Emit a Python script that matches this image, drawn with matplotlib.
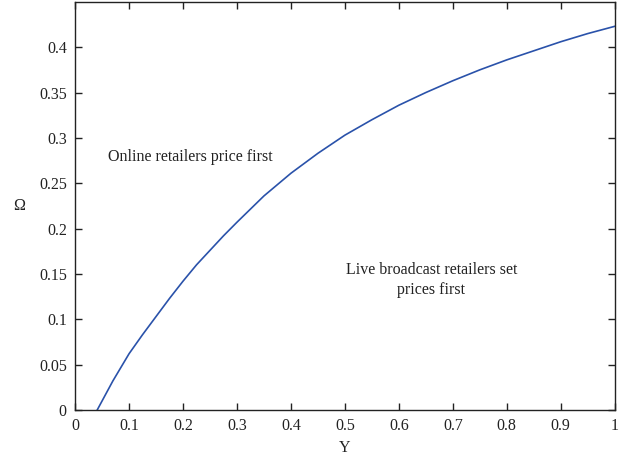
import matplotlib
matplotlib.use('Agg')
import matplotlib.pyplot as plt

# waarden
gamma = [0.041, 0.07, 0.1, 0.125, 0.15, 0.175, 0.2, 0.225, 0.25, 0.275, 0.3,
         0.35, 0.4, 0.45, 0.5, 0.55, 0.6, 0.65, 0.7, 0.75, 0.8, 0.85, 0.9, 0.95, 1.0]
omega = [0.0, 0.032, 0.062, 0.083, 0.103, 0.123, 0.142, 0.160, 0.176, 0.192, 0.207,
         0.236, 0.261, 0.283, 0.303, 0.320, 0.336, 0.350, 0.363, 0.375, 0.386, 0.396,
         0.406, 0.415, 0.423]

x_ticks = [0, 0.1, 0.2, 0.3, 0.4, 0.5, 0.6, 0.7, 0.8, 0.9, 1]
x_labels = ['0', '0.1', '0.2', '0.3', '0.4', '0.5', '0.6', '0.7', '0.8', '0.9', '1']
y_ticks = [0, 0.05, 0.1, 0.15, 0.2, 0.25, 0.3, 0.35, 0.4]
y_labels = ['0', '0.05', '0.1', '0.15', '0.2', '0.25', '0.3', '0.35', '0.4']

plt.rcParams['font.family'] = ['Liberation Serif', 'DejaVu Serif']

fig = plt.figure(figsize=(6.26, 4.58), dpi=100)
ax = fig.add_axes([0.12, 0.105, 0.862, 0.891])

ax.plot(gamma, omega, color='#2a52aa', linewidth=1.2)

ax.set_xlim(0, 1)
ax.set_ylim(0, 0.45)
ax.set_xticks(x_ticks)
ax.set_xticklabels(x_labels)
ax.set_yticks(y_ticks)
ax.set_yticklabels(y_labels)
ax.tick_params(direction='in', length=5, width=1, top=True, right=True,
               labelsize=11.5, colors='#222222', pad=6)
for s in ax.spines.values():
    s.set_linewidth(1)
    s.set_color('#222222')

ax.set_xlabel('Y', fontsize=11.5, color='#222222', labelpad=4)
ax.set_ylabel('Ω', fontsize=11.5, color='#222222', rotation=0, labelpad=14, va='center')

ax.text(0.214, 0.279, 'Online retailers price first', fontsize=11.5,
        ha='center', va='center', color='#222222')
ax.text(0.66, 0.143, 'Live broadcast retailers set\nprices first', fontsize=11.5,
        ha='center', va='center', multialignment='center', color='#222222',
        linespacing=1.3)

fig.savefig('out.png', dpi=100)
plt.close()
